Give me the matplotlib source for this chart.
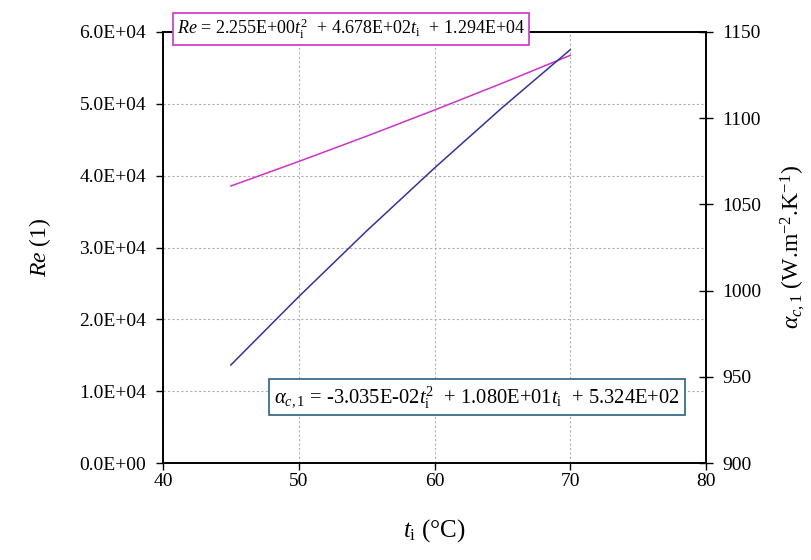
import matplotlib.pyplot as plt

plt.rcParams["font.family"] = ["Liberation Serif", "DejaVu Serif"]
plt.rcParams["mathtext.fontset"] = "custom"
plt.rcParams["mathtext.rm"] = "Liberation Serif"
plt.rcParams["mathtext.it"] = "Liberation Serif:italic"
plt.rcParams["font.size"] = 14

# values
t_i = [45, 50, 55, 60, 65, 70]
Re = [38560, 41970, 45490, 49130, 52870, 56740]
alpha = [956.9, 996.5, 1034.6, 1071.1, 1106.2, 1139.7]

fig = plt.figure(figsize=(8.12, 5.6), dpi=100)
ax = fig.add_axes([0.2007, 0.173, 0.6688, 0.770])
ax2 = ax.twinx()

ax.plot(t_i, Re, color="#cc33cc", lw=1.1, zorder=3)
ax2.plot(t_i, alpha, color="#33339a", lw=1.1, zorder=3)

ax.set_xlim(40, 80)
ax.set_ylim(0, 60000)
ax2.set_ylim(900, 1150)
ax.set_xticks([40, 50, 60, 70, 80])
ax.set_yticks(range(0, 60001, 10000))
ax2.set_yticks(range(900, 1151, 50))
ax.set_yticklabels(["%.1E" % v for v in range(0, 60001, 10000)])

ax.grid(True, color="#b0b0b0", ls=(0, (2, 2)), lw=0.8)
ax.set_axisbelow(True)
ax.tick_params(axis="y", direction="out", length=5, width=1, pad=7, labelsize=14)
ax.tick_params(axis="x", direction="out", length=5, width=1, pad=2, labelsize=14)
ax2.tick_params(axis="y", direction="inout", length=10, width=1, pad=7, labelsize=14)
for a in (ax, ax2):
    for s in a.spines.values():
        s.set_linewidth(1.2)
        s.set_color("black")

ax.set_ylabel("$Re$ (1)", fontsize=17, labelpad=19)
ax2.set_ylabel(r"$\alpha_{c,1}$ (W.m$^{-2}$.K$^{-1}$)", fontsize=17, labelpad=12)
ax.set_xlabel(r"$t_\mathrm{i}$ (°C)", fontsize=18, labelpad=20)

fig.text(0.432, 0.948,
         r"$Re$ = 2.255E+00$t_\mathrm{i}^2$  + 4.678E+02$t_\mathrm{i}$  + 1.294E+04",
         ha="center", va="center", fontsize=13,
         bbox=dict(boxstyle="square,pad=0.22", fc="white", ec="#cc33cc", lw=1.2))
fig.text(0.5875, 0.291,
         r"$\alpha_{c,1}$ = -3.035E-02$t_\mathrm{i}^2$  + 1.080E+01$t_\mathrm{i}$  + 5.324E+02",
         ha="center", va="center", fontsize=14.8,
         bbox=dict(boxstyle="square,pad=0.25", fc="white", ec="#2a6080", lw=1.2))

fig.savefig("out.png", dpi=100)
